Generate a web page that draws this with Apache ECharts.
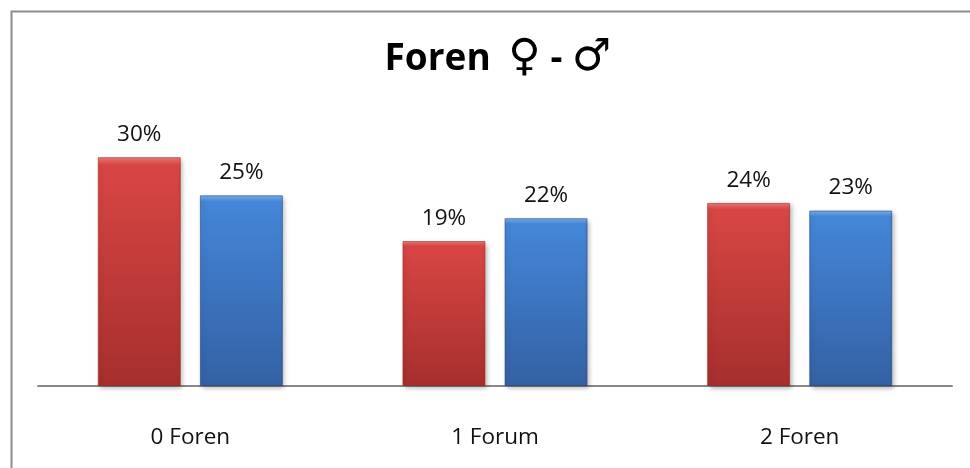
<!DOCTYPE html>
<html>
<head>
<meta charset="utf-8">
<script src="https://cdn.jsdelivr.net/npm/echarts@6/dist/echarts.min.js"></script>
<style>
  html, body { margin: 0; padding: 0; background: #fff; }
  #chart { width: 970px; height: 468px; }
</style>
</head>
<body>
<div id="chart"></div>
<script>
// Forum participation by gender
const categories = ['0 Foren', '1 Forum', '2 Foren'];
const femaleShare = [30, 19, 24];
const maleShare = [25, 22, 23];

const textFont = '"Open Sans", Lato, sans-serif';

function barGradient(light, mid, dark) {
  return new echarts.graphic.LinearGradient(0, 0, 0, 1, [
    { offset: 0, color: light },
    { offset: 0.035, color: mid },
    { offset: 1, color: dark }
  ]);
}

const chart = echarts.init(document.getElementById('chart'));

const labelStyle = {
  show: true,
  position: 'top',
  distance: 11,
  formatter: p => p.value + '%',
  fontFamily: textFont,
  fontSize: 22.5,
  color: '#111'
};

const symbolStyle = {
  fontFamily: '"DejaVu Sans", sans-serif',
  fontWeight: 'normal',
  fontSize: 44,
  color: '#000'
};

chart.setOption({
  animation: false,
  title: {
    text: '{b|Foren }{f|♀}{b|- }{s|♂}',
    left: 493,
    textAlign: 'center',
    top: 32,
    textStyle: {
      rich: {
        b: { fontFamily: textFont, fontWeight: 'bold', fontSize: 37, color: '#000' },
        f: Object.assign({ padding: [0, 10, 0, 8] }, symbolStyle),
        s: symbolStyle
      }
    }
  },
  graphic: [{
    type: 'rect',
    left: 9, top: 9,
    shape: { width: 1000, height: 500 },
    style: { fill: 'none', stroke: '#8c8c8c', lineWidth: 2 },
    silent: true
  }],
  grid: { left: 38, right: 18, top: 119, bottom: 82 },
  xAxis: {
    type: 'category',
    data: categories,
    axisLine: { lineStyle: { color: '#888', width: 2 } },
    axisTick: { show: false },
    axisLabel: {
      margin: 40,
      fontFamily: textFont,
      fontSize: 22.5,
      color: '#111'
    }
  },
  yAxis: {
    type: 'value',
    min: 0,
    max: 35,
    show: false
  },
  series: [
    {
      name: '♀',
      type: 'bar',
      data: femaleShare,
      barWidth: 83,
      barGap: '23%',
      label: labelStyle,
      itemStyle: {
        color: barGradient('#f07a78', '#d84644', '#a62f2d'),
        borderColor: 'rgba(150,30,30,0.55)',
        borderWidth: 1,
        shadowColor: 'rgba(0,0,0,0.3)',
        shadowBlur: 5,
        shadowOffsetX: 2,
        shadowOffsetY: 2
      }
    },
    {
      name: '♂',
      type: 'bar',
      data: maleShare,
      barWidth: 83,
      label: labelStyle,
      itemStyle: {
        color: barGradient('#7ab2f0', '#4486d8', '#3461a4'),
        borderColor: 'rgba(30,60,120,0.55)',
        borderWidth: 1,
        shadowColor: 'rgba(0,0,0,0.3)',
        shadowBlur: 5,
        shadowOffsetX: 2,
        shadowOffsetY: 2
      }
    }
  ]
});
</script>
</body>
</html>
